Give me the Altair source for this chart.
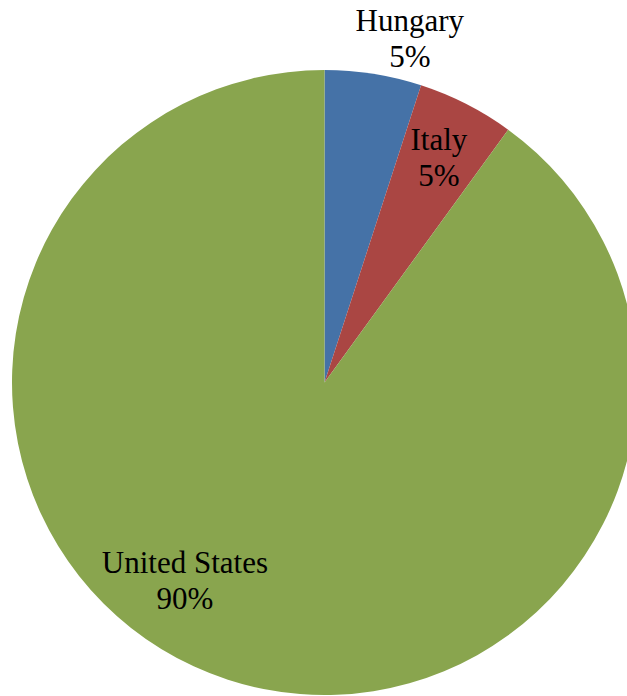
import altair as alt
import pandas as pd

countries = ["Hungary", "Italy", "United States"]
values = [5, 5, 90]
pct_labels = ["5%", "5%", "90%"]
colors = ["#4572A7", "#AA4643", "#89A54E"]

df = pd.DataFrame({
    "country": countries,
    "value": values,
    "pct": pct_labels,
    "order": list(range(len(countries))),
})

CX, CY, R = 324.5, 382.5, 312.5

base = alt.Chart(df).transform_calculate(
    lbl="datum.country + '\\n' + datum.pct"
).encode(
    theta=alt.Theta("value:Q", stack=True),
    order=alt.Order("order:Q"),
)

pie = base.mark_arc(radius=R, stroke=None).encode(
    x=alt.value(CX),
    y=alt.value(CY),
    color=alt.Color("country:N", scale=alt.Scale(domain=countries, range=colors), legend=None),
)

label_specs = [
    ("Hungary", 347, 31, -18),
    ("Italy", 252, 0, -17),
    ("United States", 209, -75, -17),
]

layers = [pie]
for c, r, dx, dy in label_specs:
    layers.append(
        base.mark_text(
            radius=r, dx=dx, dy=dy,
            font="Liberation Serif", fontSize=31, lineHeight=36,
            lineBreak="\n", color="black", align="center", baseline="middle",
        ).encode(
            x=alt.value(CX),
            y=alt.value(CY),
            text=alt.condition(f"datum.country === '{c}'", alt.Text("lbl:N"), alt.value("")),
        )
    )

chart = alt.layer(*layers).properties(
    width=627, height=696, autosize=alt.AutoSizeParams(type="none"), padding=0,
).configure_view(stroke=None)

chart.save("out.html", embed_options={"renderer": "svg", "actions": False})
